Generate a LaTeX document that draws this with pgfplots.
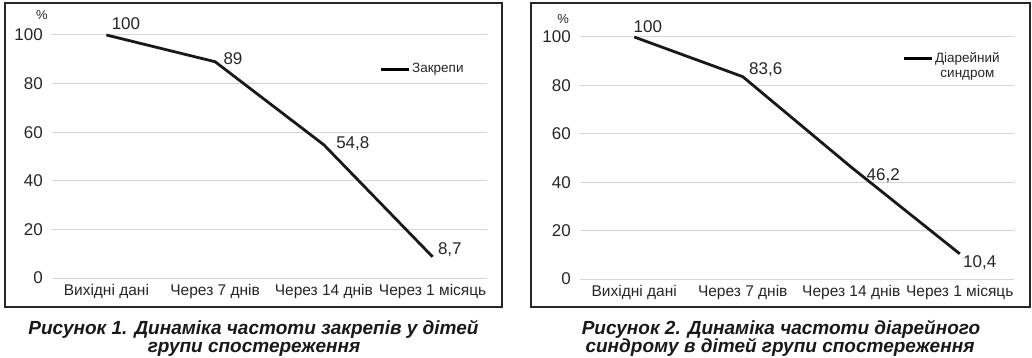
\documentclass[border=0pt]{standalone}
\usepackage{fontspec}
\setmainfont{Liberation Sans}
\newfontface\capfont{Liberation Sans Bold Italic}
\usepackage{pgfplots}
\usepackage{pgfplotstable}
\pgfplotsset{compat=1.18}

\pgfplotstableread{
x y label dx dy
0 100 100 4 11
1 89 89 7 3
2 54.8 54,8 11 1
3 8.7 8,7 4 7
}\tablezak

\pgfplotstableread{
x y label dx dy
0 100 100 -2 10.5
1 83.6 83,6 5 7
2 46.2 46,2 14 -8
3 10.4 10,4 2 -9
}\tablediar

\definecolor{gridgray}{HTML}{D6D6D6}
\definecolor{txt}{HTML}{262626}

\pgfplotsset{
  panel/.style={
    scale only axis,
    xmin=-0.5, xmax=3.5,
    ymin=0, ymax=100,
    clip=false,
    axis line style={draw=none},
    major tick length=0pt,
    tick style={draw=none},
    ymajorgrids,
    grid style={gridgray, line width=1pt},
    ytick={0,20,40,60,80,100},
    xtick={0,1,2,3},
    xticklabels={Вихідні дані, Через 7 днів, Через 14 днів, Через 1 місяць},
    /pgf/number format/assume math mode=true,
    yticklabel style={font=\fontsize{17}{18}\selectfont, text=txt, inner sep=0pt, anchor=east, xshift=-9pt},
    xticklabel style={font=\fontsize{15.5}{17}\selectfont, text=txt, inner sep=0pt, anchor=base, yshift=-17.5pt},
    legend style={draw=none, fill=none, inner sep=0pt, outer sep=0pt,
      font=\fontsize{13.5}{15}\selectfont, text=txt,
      /tikz/every even column/.style={column sep=6pt}},
    legend cell align=left,
  },
}

\begin{document}
\begin{tikzpicture}[x=1pt,y=1pt]
\path[use as bounding box] (0,0) rectangle (1032,-358);
\draw[line width=1.3pt, black!85] (5,-3) rectangle (502,-307);
\draw[line width=1.3pt, black!85] (531,-3) rectangle (1030,-307);

\begin{axis}[panel, at={(52pt,-278pt)}, anchor=south west, width=435pt, height=243pt,
  legend style={at={(rel axis cs:0.752,0.86)}, anchor=west}]
  \addplot[line width=2.8pt, black!90, no markers, forget plot,
    nodes near coords, point meta=explicit symbolic,
    visualization depends on={\thisrow{dx}\as\dx},
    visualization depends on={\thisrow{dy}\as\dy},
    every node near coord/.append style={font=\fontsize{17}{18}\selectfont, text=txt,
      anchor=west, inner sep=0pt, xshift=\dx, yshift=\dy}]
    table[x=x, y=y, meta=label] {\tablezak};
  \addlegendimage{line width=3pt, black, legend image code/.code={\draw[line width=3pt, black] (0pt,0pt) -- (28pt,0pt);}}
  \addlegendentry{Закрепи}
  \node[font=\fontsize{13}{14}\selectfont, text=txt] at (rel axis cs:-0.023,1.082) {\%};
\end{axis}

\begin{axis}[panel, at={(580pt,-279pt)}, anchor=south west, width=434pt, height=242pt,
  legend style={at={(rel axis cs:0.742,0.946)}, anchor=north west}]
  \addplot[line width=2.8pt, black!90, no markers, forget plot,
    nodes near coords, point meta=explicit symbolic,
    visualization depends on={\thisrow{dx}\as\dx},
    visualization depends on={\thisrow{dy}\as\dy},
    every node near coord/.append style={font=\fontsize{17}{18}\selectfont, text=txt,
      anchor=west, inner sep=0pt, xshift=\dx, yshift=\dy}]
    table[x=x, y=y, meta=label] {\tablediar};
  \addlegendimage{line width=3pt, black, legend image code/.code={\draw[line width=3pt, black] (0pt,0pt) -- (28pt,0pt);}}
  \addlegendentry{\begin{tabular}[t]{@{}c@{}}Діарейний\\синдром\end{tabular}}
  \node[font=\fontsize{13}{14}\selectfont, text=txt] at (rel axis cs:-0.039,1.074) {\%};
\end{axis}

\begin{scope}[every node/.style={font=\capfont\fontsize{19}{17.5}\selectfont, anchor=base, inner sep=0pt, text=black!90}]
\node at (253.5,-334.7) {Рисунок 1. Динаміка частоти закрепів у дітей};
\node at (254,-352) {групи спостереження};
\node at (781,-334.7) {Рисунок 2. Динаміка частоти діарейного};
\node at (780,-352) {синдрому в дітей групи спостереження};
\end{scope}
\end{tikzpicture}
\end{document}
